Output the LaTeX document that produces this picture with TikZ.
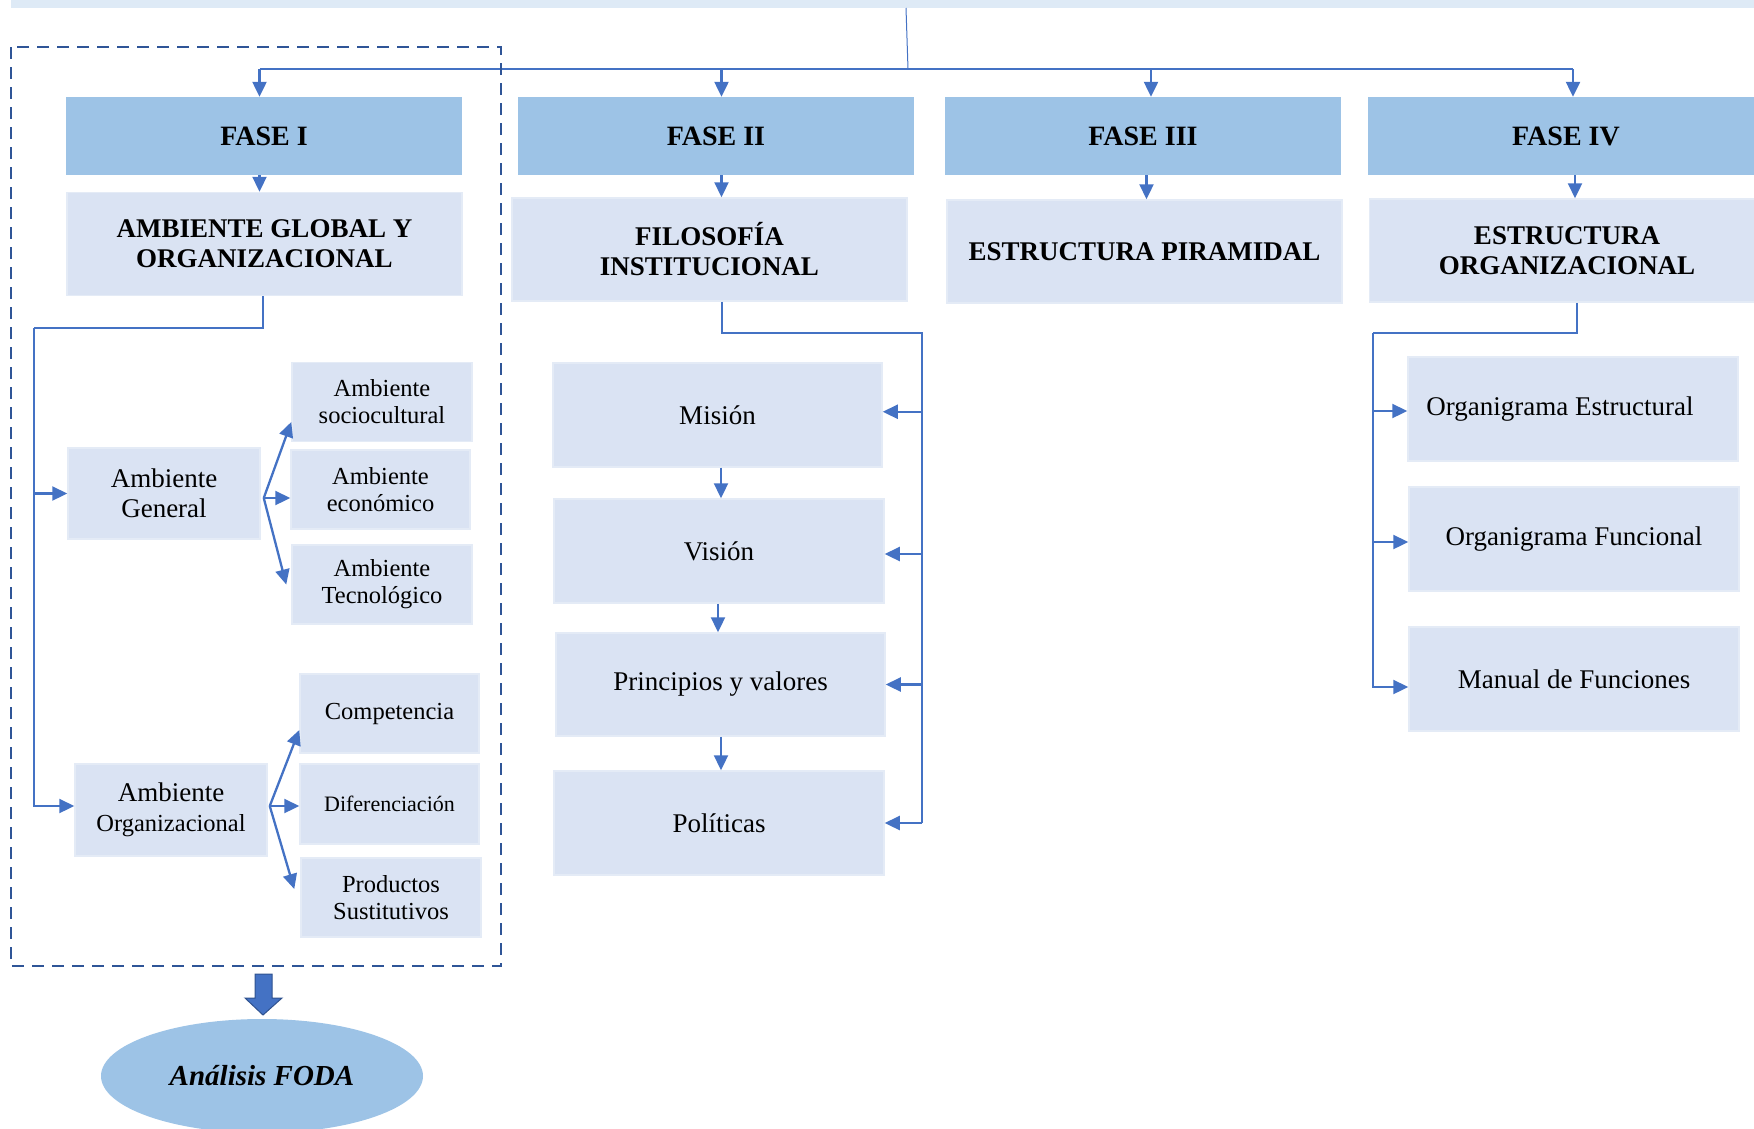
\documentclass[tikz,border=0pt]{standalone}
\usepackage{fontspec}
\setmainfont{Liberation Serif}
\usetikzlibrary{arrows.meta,calc,shapes.geometric}
\definecolor{fasefill}{HTML}{9DC3E6}
\definecolor{subfill}{HTML}{DAE3F3}
\definecolor{subline}{HTML}{E4EBF6}
\definecolor{linkblue}{HTML}{4472C4}
\definecolor{frameblue}{HTML}{2F5597}
\definecolor{bandfill}{HTML}{DEEAF6}
\definecolor{arrowedge}{HTML}{2F528F}

\begin{document}
\begin{tikzpicture}[x=1pt,y=-1pt,
  fasebox/.style={rectangle, fill=fasefill, inner sep=0pt, minimum width=396pt, minimum height=78pt,
                  font=\fontsize{28}{32}\selectfont\bfseries},
  headbox/.style={rectangle, fill=subfill, draw=subline, line width=1.5pt, inner sep=0pt,
                  minimum width=395pt, minimum height=103pt, align=center,
                  font=\fontsize{27}{30}\selectfont\bfseries},
  itembox/.style={rectangle, fill=subfill, draw=subline, line width=1.5pt, inner sep=0pt,
                  align=center, font=\fontsize{27}{30}\selectfont},
  bigitem/.style={itembox, minimum width=330pt, minimum height=104pt},
  envbox/.style={itembox, minimum width=192pt, minimum height=91pt},
  smallbox/.style={itembox, minimum width=180pt, minimum height=79pt,
                   font=\fontsize{24.5}{27}\selectfont},
  link/.style={draw=linkblue, line width=2pt},
  arr/.style={link, line width=2.3pt, -{Triangle[length=15pt,width=14pt]}},
  frame/.style={draw=frameblue, line width=2.2pt, dash pattern=on 12pt off 8pt},
]
\useasboundingbox (0,0) rectangle (1754,1128);
\clip (0,0) rectangle (1754,1128);

% top band and distribution bus
\node[rectangle, fill=bandfill, inner sep=0pt, minimum width=1760pt, minimum height=8pt, anchor=north west] (band) at (11,0) {};
\coordinate (hub) at (908,69);
\coordinate (b1) at (259.5,69);
\coordinate (b2) at (721.5,69);
\coordinate (b3) at (1151,69);
\coordinate (b4) at (1573,69);
\draw[link, line width=1pt] (906,8) -- (hub);
\draw[link] (b1) -- (b4);

% phases
\node[fasebox] (f1) at (264,136) {FASE I};
\node[fasebox] (f2) at (716,136) {FASE II};
\node[fasebox] (f3) at (1143,136) {FASE III};
\node[fasebox] (f4) at (1566,136) {FASE IV};

\draw[arr] (b1) -- (b1 |- f1.north);
\draw[arr] (b2) -- (b2 |- f2.north);
\draw[arr] (b3) -- (b3 |- f3.north);
\draw[arr] (b4) -- (b4 |- f4.north);

% phase contents
\node[headbox] (g1) at (264.5,244) {AMBIENTE GLOBAL Y\\ORGANIZACIONAL};
\node[headbox] (g2) at (709.5,249.5) {FILOSOFÍA\\INSTITUCIONAL};
\node[headbox] (g3) at (1144.5,251.5) {ESTRUCTURA PIRAMIDAL};
\node[headbox] (g4) at (1567,250.5) {ESTRUCTURA\\ORGANIZACIONAL};

\draw[arr] ([xshift=-4.5pt]f1.south) -- ([xshift=-4.5pt]f1.south |- g1.north);
\draw[arr] ([xshift=5.5pt]f2.south) -- ([xshift=5.5pt]f2.south |- g2.north);
\draw[arr] ([xshift=3.5pt]f3.south) -- ([xshift=3.5pt]f3.south |- g3.north);
\draw[arr] ([xshift=9pt]f4.south) -- ([xshift=9pt]f4.south |- g4.north);

% ---- Phase I: environment analysis ----
\draw[frame] (11,47) rectangle (501,966);

\node[envbox] (ag) at (164,493.5) {Ambiente\\General};
\node[smallbox] (soc) at (382,402) {Ambiente\\sociocultural};
\node[smallbox, minimum width=179pt] (eco) at (380.5,489.5) {Ambiente\\económico};
\node[smallbox] (tec) at (382,584.5) {Ambiente\\Tecnológico};

\node[envbox, minimum height=92pt] (ao) at (171,810) {Ambiente\\{\fontsize{24.5}{27}\selectfont Organizacional}};
\node[smallbox, minimum width=179pt] (comp) at (389.5,713.5) {Competencia};
\node[smallbox, minimum width=179pt, minimum height=80pt, font=\fontsize{22}{26}\selectfont] (dif) at (389.5,804) {Diferenciación};
\node[smallbox] (prod) at (391,897.5) {Productos\\Sustitutivos};

\coordinate (lb) at (34,328);
\draw[link] ([xshift=-1.5pt]g1.south) |- (lb);
\draw[arr] (lb) |- ([yshift=4pt]ao.west);
\draw[arr] (lb |- ag.west) -- (ag.west);

\coordinate (agout) at ([xshift=3pt,yshift=-4.5pt]ag.east);
\draw[arr] (agout) -- ([yshift=-20pt]soc.west);
\draw[arr] (agout) -- (agout -| eco.west);
\draw[arr] (agout) -- ([xshift=-5pt]tec.west);

\coordinate (aoout) at ([xshift=2pt,yshift=4pt]ao.east);
\draw[arr] (aoout) -- ([yshift=-16.5pt]comp.west);
\draw[arr] (aoout) -- (aoout -| dif.west);
\draw[arr] (aoout) -- ([xshift=-6pt,yshift=8.5pt]prod.west);

% SWOT outcome
\node[ellipse, fill=fasefill, inner sep=0pt, minimum width=322pt, minimum height=114pt,
      font=\fontsize{29}{33}\selectfont\bfseries\itshape] (foda) at (262,1076) {Análisis FODA};
\draw[fill=linkblue, draw=arrowedge, line width=1pt]
  (255,974) -- (272,974) -- (272,998) -- (282,998) -- (263,1015) -- (245,998) -- (255,998) -- cycle;

% ---- Phase II: institutional philosophy ----
\node[bigitem, minimum width=329pt] (mis) at (717.5,414.75) {Misión};
\node[bigitem] (vis) at (719,551) {Visión};
\node[bigitem, minimum width=329pt, minimum height=103pt] (pri) at (720.5,684.5) {Principios y valores};
\node[bigitem] (pol) at (719,823) {Políticas};

\coordinate (rb) at (922,332.5);
\draw[link] ([xshift=12pt]g2.south) |- (rb) -- (rb |- pol.east);
\draw[arr] ([yshift=3pt]rb |- mis.east) -- ([yshift=3pt]mis.east);
\draw[arr] ([yshift=-3pt]rb |- vis.east) -- ([yshift=-3pt]vis.east);
\draw[arr] (rb |- pri.east) -- (pri.east);
\draw[arr] (rb |- pol.east) -- (pol.east);

\draw[arr] ([xshift=3.5pt]mis.south) -- ([xshift=3.5pt]mis.south |- vis.north);
\draw[arr] ([xshift=-1pt]vis.south) -- ([xshift=-1pt]vis.south |- pri.north);
\draw[arr] ([xshift=0.5pt]pri.south) -- ([xshift=0.5pt]pri.south |- pol.north);

% ---- Phase IV: organisational structure ----
\node[bigitem] (oe) at (1573,409) {\hspace*{-26pt}Organigrama Estructural};
\node[bigitem] (of) at (1574,539) {Organigrama Funcional};
\node[bigitem] (mf) at (1574,679) {Manual de Funciones};

\coordinate (lb4) at (1373,333);
\draw[link] ([xshift=10pt]g4.south) |- (lb4);
\draw[arr] (lb4) |- ([yshift=-8pt]mf.west);
\draw[arr] ([yshift=-2pt]lb4 |- oe.west) -- ([yshift=-2pt]oe.west);
\draw[arr] ([yshift=-3pt]lb4 |- of.west) -- ([yshift=-3pt]of.west);

\end{tikzpicture}
\end{document}
